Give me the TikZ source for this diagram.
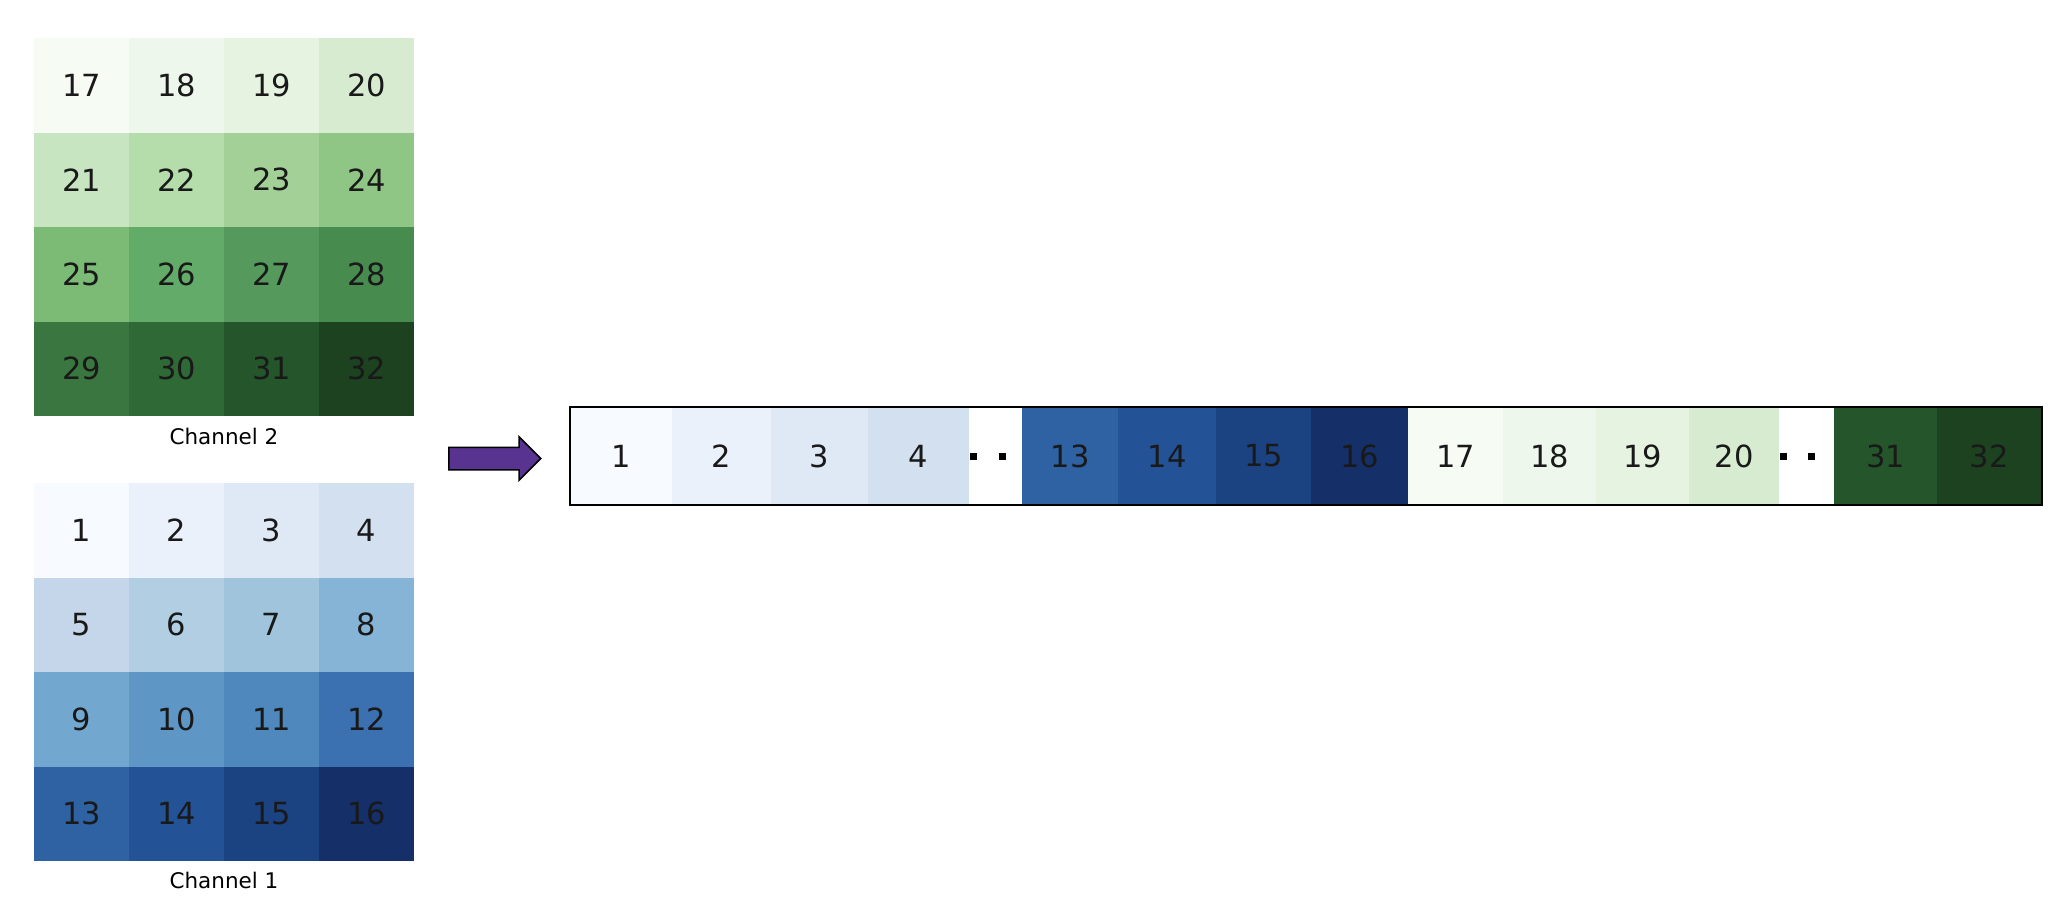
\documentclass[tikz,border=0pt]{standalone}
\usepackage{fontspec}
\setmainfont{DejaVu Sans}
\usetikzlibrary{shapes.arrows}

\definecolor{c1}{HTML}{F7FBFF}
\definecolor{c2}{HTML}{EAF1FA}
\definecolor{c3}{HTML}{DFE9F5}
\definecolor{c4}{HTML}{D2E0EF}
\definecolor{c5}{HTML}{C5D6EB}
\definecolor{c6}{HTML}{B1CEE3}
\definecolor{c7}{HTML}{9FC4DC}
\definecolor{c8}{HTML}{86B4D6}
\definecolor{c9}{HTML}{72A7CF}
\definecolor{c10}{HTML}{5E97C6}
\definecolor{c11}{HTML}{4E88BD}
\definecolor{c12}{HTML}{3B71B1}
\definecolor{c13}{HTML}{2F62A3}
\definecolor{c14}{HTML}{235396}
\definecolor{c15}{HTML}{1B4381}
\definecolor{c16}{HTML}{152F68}
\definecolor{c17}{HTML}{F6FBF4}
\definecolor{c18}{HTML}{EEF7EC}
\definecolor{c19}{HTML}{E5F3E0}
\definecolor{c20}{HTML}{D7EBD1}
\definecolor{c21}{HTML}{C7E5C1}
\definecolor{c22}{HTML}{B5DCAB}
\definecolor{c23}{HTML}{A3D097}
\definecolor{c24}{HTML}{90C685}
\definecolor{c25}{HTML}{7CBB76}
\definecolor{c26}{HTML}{63AB68}
\definecolor{c27}{HTML}{55995C}
\definecolor{c28}{HTML}{488B4F}
\definecolor{c29}{HTML}{3A7740}
\definecolor{c30}{HTML}{2F6A36}
\definecolor{c31}{HTML}{24552B}
\definecolor{c32}{HTML}{1C4220}
\definecolor{arrowpurple}{HTML}{58338F}

\begin{document}
\begin{tikzpicture}[x=1pt, y=-1pt,
   numfont/.style={font=\fontsize{30.5}{36}\selectfont, text=black!90},
   chanlabel/.style={anchor=base, font=\fontsize{21.5}{26}\selectfont},
   dot/.style={rectangle, fill=black, inner sep=0pt, minimum size=7pt}]
 \useasboundingbox (0,0) rectangle (2072,918);
 % the two 4x4 channels
 \begin{scope}[every node/.style={rectangle, inner sep=0pt, minimum width=95pt, minimum height=94.5pt, numfont}]
   \foreach \n in {1,...,16} {
     \pgfmathtruncatemacro\col{mod(\n-1,4)}
     \pgfmathtruncatemacro\row{div(\n-1,4)}
     \pgfmathtruncatemacro\m{\n+16}
     \node (a\n) [fill=c\n] at (81.5+95*\col, 530.25+94.5*\row) {\n};
     \node (b\m) [fill=c\m] at (81.5+95*\col, 85.25+94.5*\row) {\m};
   }
 \end{scope}
 \node (ch2) [chanlabel] at (224,444) {Channel 2};
 \node (ch1) [chanlabel] at (224,888) {Channel 1};

 \node (arr) [single arrow, draw=black, line width=1.5pt, fill=arrowpurple, inner xsep=0pt, inner ysep=10.5pt,
   minimum height=92pt, single arrow head extend=10.5pt, anchor=tail] at (448,458.5) {};

 % flattened vector
 \begin{scope}[every node/.style={rectangle, inner sep=0pt, minimum height=98pt, numfont}]
   \foreach \n/\xa/\xb in {1/570/672, 2/672/771, 3/771/868, 4/868/969,
       13/1022/1118, 14/1118/1216, 15/1216/1311, 16/1311/1408,
       17/1408/1503, 18/1503/1596, 19/1596/1689, 20/1689/1779,
       31/1834/1937, 32/1937/2041}
     \node (s\n) [fill=c\n, minimum width={(\xb-\xa)*1pt}] at ({(\xa+\xb)/2},456) {\n};
 \end{scope}
 \node (d1) [dot] at (973.5,456) {};
 \node (d2) [dot] at (1002,456) {};
 \node (d3) [dot] at (1783,456) {};
 \node (d4) [dot] at (1811.5,456) {};
 \node (strip) [draw, line width=1.5pt, inner sep=0pt, minimum width=1472pt, minimum height=98pt] at (1306,456) {};
\end{tikzpicture}
\end{document}
